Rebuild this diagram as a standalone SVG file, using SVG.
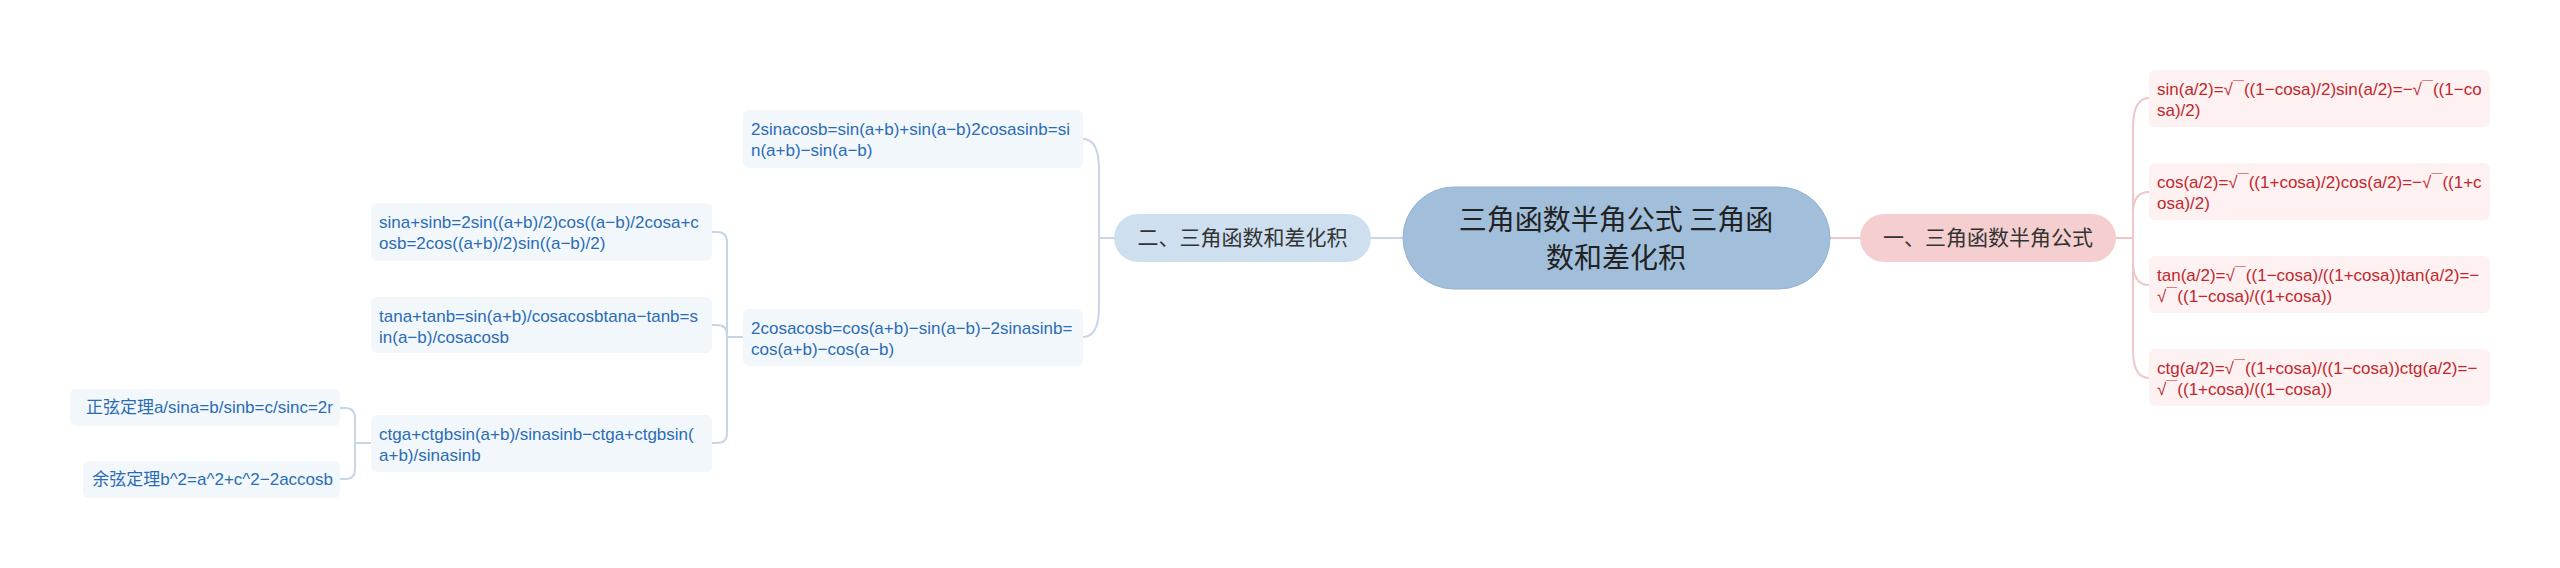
<svg xmlns="http://www.w3.org/2000/svg" width="2560" height="568" viewBox="0 0 2560 568">
<style>
.bg{fill:#ffffff}
.cjk{font-family:"Noto Sans CJK SC","Liberation Sans",sans-serif}
.leaf{font-family:"Liberation Sans","Noto Sans CJK SC",sans-serif;font-size:17px}
.lb{fill:#f2f7fc}
.lt{fill:#2b6cb5}
.rb{fill:#fdf1f1}
.rt{fill:#c1272d}
.m{font-size:11px}
.cl{fill:none;stroke:#c7d5e5;stroke-width:2}
.cr{fill:none;stroke:#f0c6c8;stroke-width:2}
</style>
<rect class="bg" x="0" y="0" width="2560" height="568"/>
<g id="connectors">
  <path class="cl" d="M1403,238 H1371"/>
  <path class="cr" d="M1830,238 H1860"/>
  <path class="cl" d="M1115,238 H1099"/>
  <path class="cl" d="M1099,238 V170 Q1099,139 1083,139"/>
  <path class="cl" d="M1099,238 V306 Q1099,337 1083,337"/>
  <path class="cl" d="M743,337 H727"/>
  <path class="cl" d="M727,337 V242 Q727,232 717,232 H712"/>
  <path class="cl" d="M727,337 V335 Q727,325 717,325 H712"/>
  <path class="cl" d="M727,337 V433 Q727,443 717,443 H712"/>
  <path class="cl" d="M371,443 H355"/>
  <path class="cl" d="M355,443 V418 Q355,408 345,408 H340"/>
  <path class="cl" d="M355,443 V469 Q355,479 345,479 H340"/>
  <path class="cr" d="M2116,238 H2133"/>
  <path class="cr" d="M2133,238 V128 Q2133,98 2149,98"/>
  <path class="cr" d="M2133,238 V213 Q2133,192 2149,192"/>
  <path class="cr" d="M2133,238 V262 Q2133,285 2149,285"/>
  <path class="cr" d="M2133,238 V350 Q2133,378 2149,378"/>
</g>
<g id="root">
  <rect x="1403" y="187" width="427" height="102" rx="51" fill="#a1bfdb" stroke="#93b3d3" stroke-width="1"/>
  <text class="cjk" x="1616" y="230" font-size="28" fill="#222" text-anchor="middle">三角函数半角公式 三角函</text>
  <text class="cjk" x="1616" y="268" font-size="28" fill="#222" text-anchor="middle">数和差化积</text>
</g>
<g id="branch-left">
  <rect x="1114" y="214" width="257" height="48" rx="24" fill="#cedff0"/>
  <text class="cjk" x="1242.5" y="245" font-size="21" fill="#333" text-anchor="middle">二、三角函数和差化积</text>
</g>
<g id="branch-right">
  <rect x="1860" y="214" width="256" height="48" rx="24" fill="#f5cfd0"/>
  <text class="cjk" x="1988" y="245" font-size="21" fill="#333" text-anchor="middle">一、三角函数半角公式</text>
</g>
<g id="leaf-a">
  <rect class="lb" x="743" y="110" width="340" height="58" rx="6"/>
  <text class="leaf lt" x="751" y="135">2sinacosb=sin(a+b)+sin(a−b)2cosasinb=si</text>
  <text class="leaf lt" x="751" y="156">n(a+b)−sin(a−b)</text>
</g>
<g id="leaf-b">
  <rect class="lb" x="743" y="309" width="340" height="57" rx="6"/>
  <text class="leaf lt" x="751" y="334">2cosacosb=cos(a+b)−sin(a−b)−2sinasinb=</text>
  <text class="leaf lt" x="751" y="355">cos(a+b)−cos(a−b)</text>
</g>
<g id="leaf-c">
  <rect class="lb" x="371" y="203" width="341" height="58" rx="6"/>
  <text class="leaf lt" x="379" y="228">sina+sinb=2sin((a+b)/2)cos((a−b)/2cosa+c</text>
  <text class="leaf lt" x="379" y="249">osb=2cos((a+b)/2)sin((a−b)/2)</text>
</g>
<g id="leaf-d">
  <rect class="lb" x="371" y="297" width="341" height="56" rx="6"/>
  <text class="leaf lt" x="379" y="322">tana+tanb=sin(a+b)/cosacosbtana−tanb=s</text>
  <text class="leaf lt" x="379" y="343">in(a−b)/cosacosb</text>
</g>
<g id="leaf-e">
  <rect class="lb" x="371" y="415" width="341" height="57" rx="6"/>
  <text class="leaf lt" x="379" y="440">ctga+ctgbsin(a+b)/sinasinb−ctga+ctgbsin(</text>
  <text class="leaf lt" x="379" y="461">a+b)/sinasinb</text>
</g>
<g id="leaf-f">
  <rect class="lb" x="70" y="389" width="270" height="37" rx="6"/>
  <text class="leaf lt" x="333" y="413" text-anchor="end">正弦定理a/sina=b/sinb=c/sinc=2r</text>
</g>
<g id="leaf-g">
  <rect class="lb" x="83" y="461" width="257" height="37" rx="6"/>
  <text class="leaf lt" x="333" y="485" text-anchor="end">余弦定理b^2=a^2+c^2−2accosb</text>
</g>
<g id="leaf-r1">
  <rect class="rb" x="2149" y="70" width="341" height="57" rx="6"/>
  <text class="leaf rt" x="2157" y="95">sin(a/2)=√<tspan class="m" dy="-4">￣</tspan><tspan dy="4">((1−cosa)/2)sin(a/2)=−√</tspan><tspan class="m" dy="-4">￣</tspan><tspan dy="4">((1−co</tspan></text>
  <text class="leaf rt" x="2157" y="116">sa)/2)</text>
</g>
<g id="leaf-r2">
  <rect class="rb" x="2149" y="163" width="341" height="57" rx="6"/>
  <text class="leaf rt" x="2157" y="188">cos(a/2)=√<tspan class="m" dy="-4">￣</tspan><tspan dy="4">((1+cosa)/2)cos(a/2)=−√</tspan><tspan class="m" dy="-4">￣</tspan><tspan dy="4">((1+c</tspan></text>
  <text class="leaf rt" x="2157" y="209">osa)/2)</text>
</g>
<g id="leaf-r3">
  <rect class="rb" x="2149" y="256" width="341" height="57" rx="6"/>
  <text class="leaf rt" x="2157" y="281">tan(a/2)=√<tspan class="m" dy="-4">￣</tspan><tspan dy="4">((1−cosa)/((1+cosa))tan(a/2)=−</tspan></text>
  <text class="leaf rt" x="2157" y="302">√<tspan class="m" dy="-4">￣</tspan><tspan dy="4">((1−cosa)/((1+cosa))</tspan></text>
</g>
<g id="leaf-r4">
  <rect class="rb" x="2149" y="349" width="341" height="57" rx="6"/>
  <text class="leaf rt" x="2157" y="374">ctg(a/2)=√<tspan class="m" dy="-4">￣</tspan><tspan dy="4">((1+cosa)/((1−cosa))ctg(a/2)=−</tspan></text>
  <text class="leaf rt" x="2157" y="395">√<tspan class="m" dy="-4">￣</tspan><tspan dy="4">((1+cosa)/((1−cosa))</tspan></text>
</g>
</svg>
